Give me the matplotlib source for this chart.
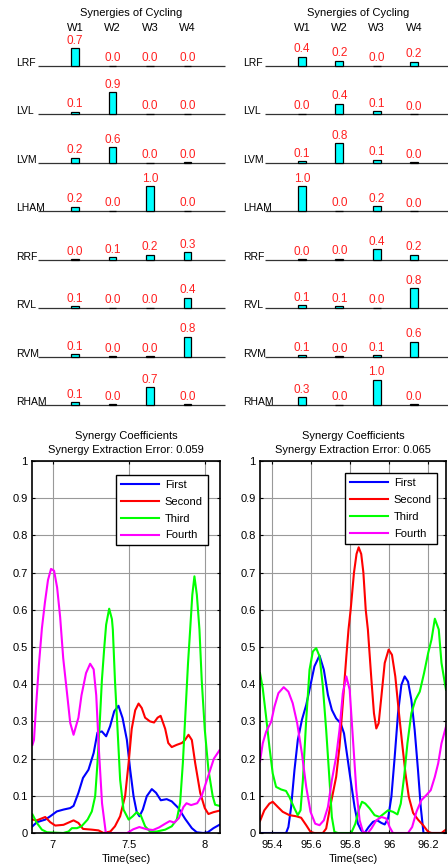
import matplotlib
matplotlib.use("Agg")
import matplotlib.pyplot as plt

plt.rcParams["font.family"] = ["Liberation Sans", "DejaVu Sans"]

# --- top panels: synergy weights -------------------------------------------
muscles = ["LRF", "LVL", "LVM", "LHAM", "RRF", "RVL", "RVM", "RHAM"]
synergy_names = ["W1", "W2", "W3", "W4"]

weights_left = [
    [0.72, 0.02, 0.02, 0.02],
    [0.10, 0.88, 0.02, 0.02],
    [0.20, 0.62, 0.01, 0.02],
    [0.18, 0.02, 1.00, 0.02],
    [0.01, 0.10, 0.20, 0.30],
    [0.07, 0.02, 0.02, 0.42],
    [0.09, 0.01, 0.01, 0.80],
    [0.10, 0.02, 0.70, 0.02],
]
weights_right = [
    [0.38, 0.20, 0.01, 0.17],
    [0.02, 0.42, 0.12, 0.01],
    [0.06, 0.78, 0.12, 0.02],
    [1.00, 0.02, 0.20, 0.00],
    [0.02, 0.03, 0.42, 0.20],
    [0.12, 0.08, 0.01, 0.80],
    [0.05, 0.01, 0.06, 0.60],
    [0.30, 0.01, 1.00, 0.02],
]

# --- bottom panels: activation coefficients --------------------------------
labels = ["First", "Second", "Third", "Fourth"]
colors = ["#0000FF", "#FF0000", "#00FF00", "#FF00FF"]

left_error = 0.059
right_error = 0.065

left_first_t = [6.868, 6.897, 6.952, 6.985, 7.028, 7.072, 7.116, 7.138, 7.17, 7.2, 7.236, 7.27,
                7.295, 7.324, 7.352, 7.378, 7.405, 7.433, 7.46, 7.488, 7.51, 7.532, 7.553, 7.571,
                7.593, 7.619, 7.652, 7.68, 7.711, 7.75, 7.783, 7.827, 7.871, 7.915, 7.947, 7.99,
                8.02, 8.057, 8.096]
left_first_v = [0.018, 0.029, 0.036, 0.045, 0.058, 0.063, 0.067, 0.073, 0.108, 0.148, 0.17, 0.215,
                0.27, 0.273, 0.26, 0.287, 0.327, 0.342, 0.309, 0.251, 0.17, 0.099, 0.056, 0.045,
                0.063, 0.099, 0.118, 0.108, 0.088, 0.091, 0.085, 0.067, 0.038, 0.013, 0.002, 0.0,
                0.002, 0.013, 0.022]

left_second_t = [6.868, 6.897, 6.952, 6.985, 7.018, 7.072, 7.138, 7.17, 7.2, 7.258, 7.302, 7.335,
                 7.38, 7.41, 7.444, 7.477, 7.5, 7.52, 7.543, 7.565, 7.586, 7.608, 7.64, 7.667,
                 7.69, 7.71, 7.74, 7.76, 7.783, 7.816, 7.85, 7.87, 7.893, 7.915, 7.937, 7.97,
                 8.0, 8.024, 8.057, 8.096]
left_second_v = [0.036, 0.034, 0.043, 0.029, 0.02, 0.022, 0.034, 0.027, 0.011, 0.009, 0.007, 0.0,
                 0.004, 0.018, 0.045, 0.1, 0.19, 0.28, 0.33, 0.348, 0.336, 0.31, 0.3, 0.297,
                 0.31, 0.315, 0.28, 0.242, 0.231, 0.237, 0.242, 0.25, 0.264, 0.25, 0.188, 0.108,
                 0.067, 0.051, 0.056, 0.06]

left_third_t = [6.868, 6.897, 6.93, 6.963, 7.07, 7.105, 7.127, 7.16, 7.19, 7.23, 7.258, 7.28,
                7.295, 7.31, 7.324, 7.34, 7.352, 7.372, 7.39, 7.396, 7.41, 7.427, 7.444, 7.466,
                7.5, 7.527, 7.553, 7.58, 7.608, 7.64, 7.685, 7.74, 7.783, 7.816, 7.838, 7.856,
                7.873, 7.89, 7.904, 7.918, 7.932, 7.948, 7.965, 7.98, 8.0, 8.024, 8.052, 8.068,
                8.096]
left_third_v = [0.05, 0.027, 0.009, 0.002, 0.0, 0.004, 0.013, 0.013, 0.018, 0.036, 0.058, 0.099,
                0.188, 0.296, 0.41, 0.5, 0.56, 0.603, 0.575, 0.547, 0.41, 0.278, 0.143, 0.063,
                0.036, 0.045, 0.056, 0.047, 0.018, 0.004, 0.004, 0.009, 0.018, 0.036, 0.081, 0.188,
                0.323, 0.457, 0.547, 0.64, 0.69, 0.64, 0.547, 0.41, 0.278, 0.17, 0.099, 0.076,
                0.073]

left_fourth_t = [6.868, 6.878, 6.89, 6.91, 6.93, 6.95, 6.97, 6.99, 7.01, 7.03, 7.05, 7.07,
                 7.094, 7.116, 7.138, 7.17, 7.19, 7.22, 7.247, 7.27, 7.287, 7.305, 7.325, 7.35,
                 7.49, 7.53, 7.57, 7.62, 7.66, 7.7, 7.74, 7.77, 7.8, 7.83, 7.86, 7.88,
                 7.91, 7.95, 7.98, 8.02, 8.06, 8.096]
left_fourth_v = [0.237, 0.25, 0.33, 0.45, 0.55, 0.62, 0.68, 0.71, 0.705, 0.66, 0.58, 0.47,
                 0.38, 0.296, 0.264, 0.31, 0.37, 0.43, 0.455, 0.44, 0.37, 0.22, 0.08, 0.0,
                 0.0, 0.01, 0.016, 0.01, 0.008, 0.015, 0.025, 0.032, 0.028, 0.04, 0.07, 0.08,
                 0.075, 0.08, 0.1, 0.15, 0.2, 0.222]

right_first_t = [95.34, 95.473, 95.485, 95.499, 95.516, 95.533, 95.554, 95.576, 95.598, 95.618,
                 95.644, 95.666, 95.687, 95.707, 95.729, 95.752, 95.769, 95.786, 95.803, 95.823,
                 95.84, 95.857, 95.874, 95.895, 95.917, 95.939, 95.96, 95.977, 95.994, 96.011,
                 96.028, 96.045, 96.062, 96.079, 96.096, 96.113, 96.13, 96.147, 96.161, 96.175,
                 96.29]
right_first_v = [0.0, 0.0, 0.016, 0.07, 0.169, 0.25, 0.304, 0.344, 0.398, 0.448,
                 0.477, 0.439, 0.371, 0.331, 0.308, 0.295, 0.268, 0.205, 0.142, 0.07,
                 0.025, 0.007, 0.0, 0.016, 0.03, 0.034, 0.027, 0.023, 0.039, 0.097,
                 0.205, 0.322, 0.398, 0.421, 0.407, 0.358, 0.277, 0.169, 0.07, 0.0,
                 0.0]

right_second_t = [95.34, 95.362, 95.388, 95.405, 95.431, 95.456, 95.49, 95.525, 95.55, 95.576,
                  95.598, 95.618, 95.661, 95.678, 95.695, 95.712, 95.729, 95.746, 95.763, 95.781,
                  95.792, 95.803, 95.82, 95.833, 95.844, 95.857, 95.868, 95.88, 95.891, 95.909,
                  95.922, 95.934, 95.946, 95.96, 95.977, 95.997, 96.014, 96.031, 96.048, 96.066,
                  96.083, 96.1, 96.122, 96.147, 96.173, 96.199, 96.216, 96.267, 96.284, 96.29]
right_second_v = [0.032, 0.061, 0.079, 0.084, 0.07, 0.057, 0.048, 0.045, 0.041, 0.021,
                  0.003, 0.0, 0.0, 0.012, 0.061, 0.106, 0.151, 0.232, 0.349, 0.475,
                  0.547, 0.6, 0.7, 0.75, 0.768, 0.75, 0.7, 0.6, 0.547, 0.412,
                  0.322, 0.281, 0.295, 0.367, 0.457, 0.493, 0.479, 0.421, 0.331, 0.241,
                  0.16, 0.097, 0.054, 0.036, 0.021, 0.003, 0.0, 0.0, 0.007, 0.009]

right_third_t = [95.34, 95.354, 95.371, 95.388, 95.405, 95.422, 95.448, 95.473, 95.49, 95.516,
                 95.533, 95.547, 95.559, 95.576, 95.593, 95.61, 95.627, 95.644, 95.661, 95.678,
                 95.695, 95.707, 95.72, 95.738, 95.806, 95.827, 95.844, 95.861, 95.878, 95.9,
                 95.925, 95.951, 95.973, 95.994, 96.019, 96.042, 96.059, 96.076, 96.093, 96.113,
                 96.134, 96.156, 96.178, 96.199, 96.216, 96.233, 96.253, 96.267, 96.284, 96.29]
right_third_v = [0.43, 0.389, 0.313, 0.232, 0.16, 0.124, 0.117, 0.113, 0.097, 0.066,
                 0.048, 0.061, 0.142, 0.304, 0.439, 0.488, 0.497, 0.475, 0.394, 0.277,
                 0.142, 0.043, 0.003, 0.0, 0.0, 0.025, 0.061, 0.084, 0.079, 0.066,
                 0.048, 0.043, 0.052, 0.061, 0.057, 0.05, 0.079, 0.151, 0.241, 0.322,
                 0.358, 0.38, 0.43, 0.484, 0.52, 0.576, 0.547, 0.457, 0.403, 0.385]

right_fourth_t = [95.34, 95.354, 95.371, 95.397, 95.414, 95.434, 95.461, 95.485, 95.507, 95.53,
                  95.554, 95.576, 95.598, 95.622, 95.644, 95.666, 95.687, 95.707, 95.729, 95.746,
                  95.763, 95.781, 95.798, 95.815, 95.832, 95.849, 95.866, 95.891, 95.909, 95.934,
                  95.96, 95.985, 96.002, 96.019, 96.096, 96.117, 96.139, 96.164, 96.19, 96.212,
                  96.233, 96.25, 96.267, 96.292]
right_fourth_v = [0.192, 0.241, 0.272, 0.299, 0.34, 0.376, 0.392, 0.38, 0.349, 0.295,
                  0.214, 0.124, 0.057, 0.025, 0.021, 0.034, 0.07, 0.142, 0.205, 0.277,
                  0.376, 0.421, 0.385, 0.25, 0.115, 0.034, 0.003, 0.0, 0.012, 0.034,
                  0.043, 0.039, 0.016, 0.0, 0.0, 0.016, 0.057, 0.088, 0.102, 0.115,
                  0.151, 0.187, 0.241, 0.29]

W, H = 448, 868
ROW_STEP = 1.937   # data units between muscle rows (bar unit = 25 px)


def px_axes(fig, x0, y0, x1, y1):
    """Axes from pixel box (top-left origin)."""
    return fig.add_axes([x0 / W, (H - y1) / H, (x1 - x0) / W, (y1 - y0) / H])


def draw_weights(ax, weights, xmax):
    ax.set_xlim(0, xmax)
    ax.set_ylim(-13.76, 1.04)
    ax.axis("off")
    xs = list(range(1, len(synergy_names) + 1))
    for i, (name, row) in enumerate(zip(muscles, weights)):
        base = -i * ROW_STEP
        ax.hlines(base, 0, xmax, color="#333333", lw=0.9, clip_on=False)
        ax.bar(xs, row, width=0.21, bottom=base, color="#00FFFF",
               edgecolor="black", lw=0.9, zorder=3)
        for x, v in zip(xs, row):
            ax.text(x, base + v + 0.06, f"{v:.1f}", color="#FF2020",
                    ha="center", va="bottom", fontsize=8.5)
        ax.text(-0.58, base, name, ha="left", va="baseline", fontsize=7.5,
                clip_on=False)
    for x, s in zip(xs, synergy_names):
        ax.text(x, 1.52, s, ha="center", va="center", fontsize=8)
    ax.text(2.5, 2.12, "Synergies of Cycling", ha="center", va="center",
            fontsize=8, clip_on=False)


def draw_coeffs(ax, series, xlim, xticks, err, legend_anchor):
    for (t, v), lab, c in zip(series, labels, colors):
        ax.plot(t, v, color=c, lw=1.5, label=lab)
    ax.set_xlim(*xlim)
    ax.set_ylim(0, 1)
    ax.set_xticks(xticks)
    ax.set_xticklabels([f"{x:g}" for x in xticks])
    ax.set_yticks([i / 10 for i in range(11)])
    ax.set_yticklabels(["0"] + [f"{i / 10:.1f}" for i in range(1, 10)] + ["1"])
    ax.grid(True, color="#999999", lw=0.8)
    ax.tick_params(direction="in", top=True, right=True, length=2.5,
                   labelsize=8)
    ax.tick_params(axis="x", pad=5)
    ax.tick_params(axis="y", pad=3)
    for s in ax.spines.values():
        s.set_linewidth(1.2)
    ax.set_xlabel("Time(sec)", fontsize=8, labelpad=3)
    ax.set_title(f"Synergy Coefficients\nSynergy Extraction Error: {err:.3f}",
                 fontsize=8, pad=6, linespacing=1.45)
    leg = ax.legend(loc="upper right", bbox_to_anchor=legend_anchor, fontsize=8,
                    handlelength=3.4, labelspacing=0.62, borderpad=0.45,
                    handletextpad=0.5, fancybox=False, framealpha=1,
                    edgecolor="black")
    leg.get_frame().set_linewidth(1.0)


fig = plt.figure(figsize=(W / 100, H / 100), dpi=100)

ax_tl = px_axes(fig, 37.5, 40, 225, 410)
draw_weights(ax_tl, weights_left, 5.0)
ax_tr = px_axes(fig, 264.5, 40, 448, 410)
draw_weights(ax_tr, weights_right, 183.5 / 37.4)

ax_bl = px_axes(fig, 32, 461, 220, 833)
draw_coeffs(ax_bl,
            [(left_first_t, left_first_v), (left_second_t, left_second_v),
             (left_third_t, left_third_v), (left_fourth_t, left_fourth_v)],
            (6.865, 8.10), [7, 7.5, 8], left_error, (0.964, 0.978))

ax_br = px_axes(fig, 260, 461, 446, 833)
draw_coeffs(ax_br,
            [(right_first_t, right_first_v), (right_second_t, right_second_v),
             (right_third_t, right_third_v), (right_fourth_t, right_fourth_v)],
            (95.34, 96.29), [95.4, 95.6, 95.8, 96, 96.2], right_error, (0.98, 0.982))

fig.savefig("out.png", dpi=100)
